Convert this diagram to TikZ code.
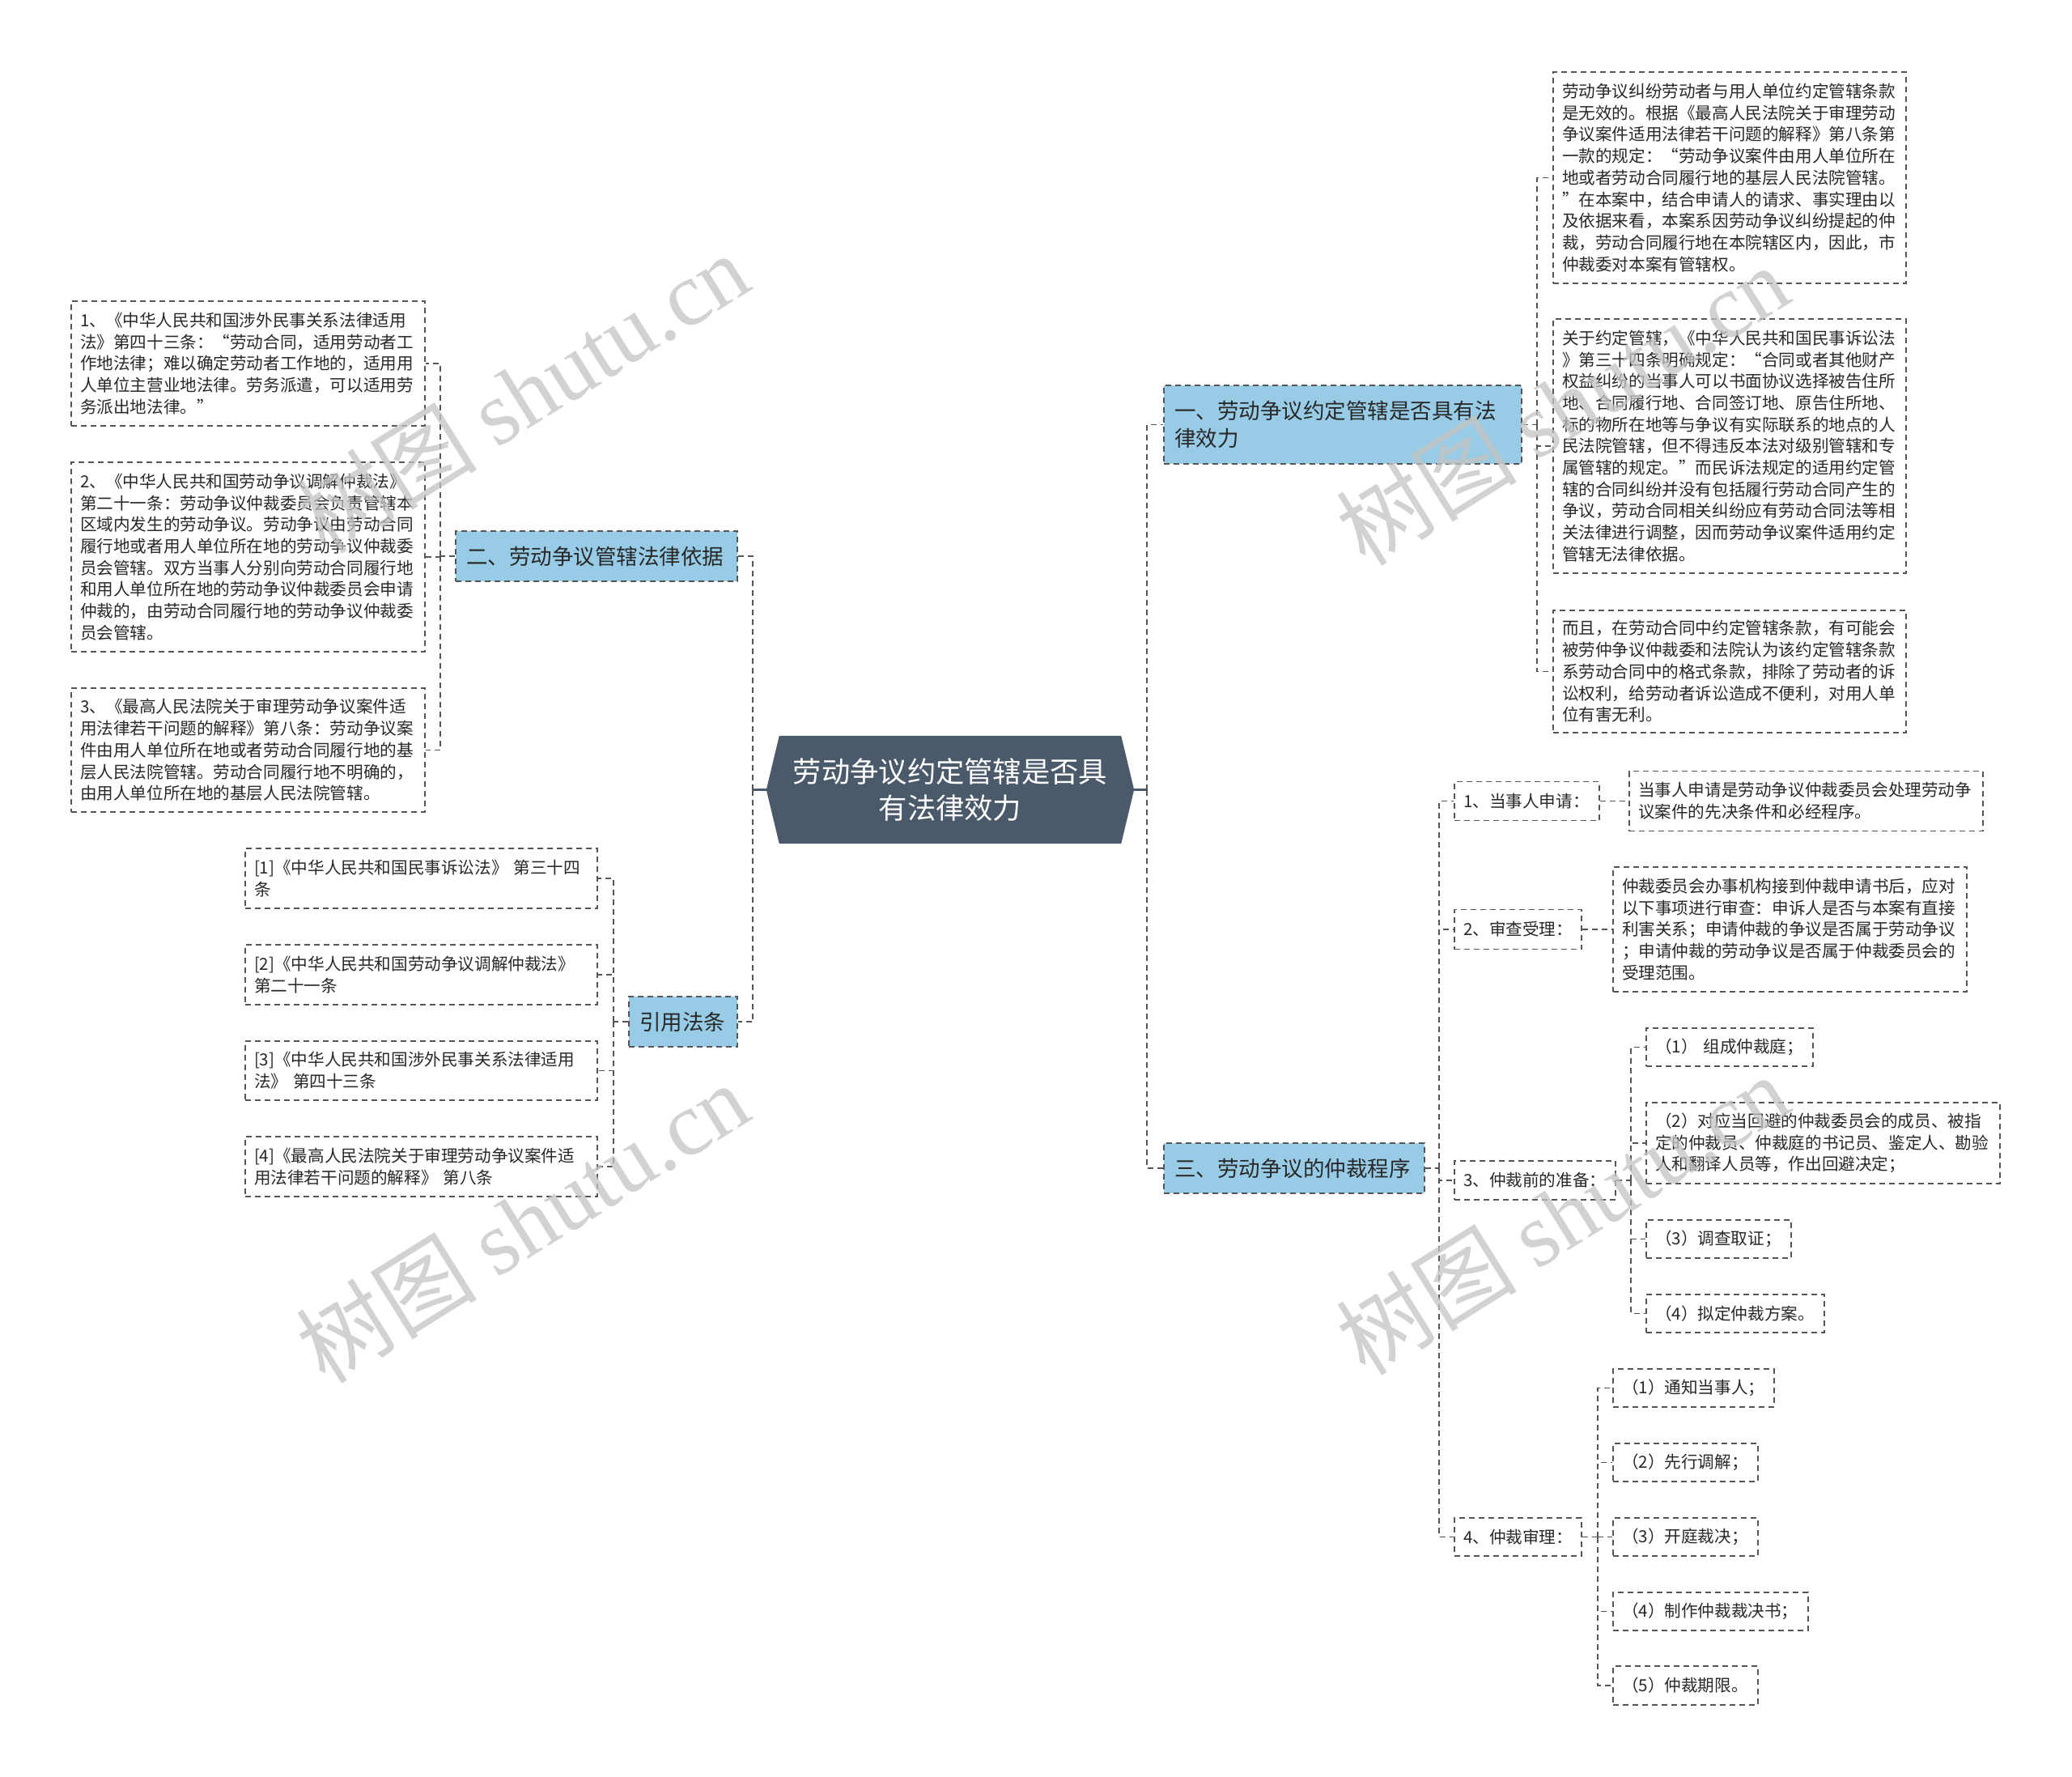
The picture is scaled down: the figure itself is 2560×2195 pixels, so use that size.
\documentclass[tikz,border=0pt]{standalone}
\usepackage{fontspec}
\newfontfamily\cjk{Noto Sans CJK SC}
\newfontfamily\wmserif{Liberation Serif}
\usetikzlibrary{backgrounds}
\definecolor{linec}{RGB}{85,85,85}
\definecolor{cenfill}{RGB}{75,90,106}
\definecolor{branchfill}{RGB}{152,204,230}
\definecolor{wmc}{RGB}{196,196,196}
\definecolor{txt}{RGB}{40,40,40}
\tikzset{
  conn/.style={draw=linec, line width=1.8pt, dash pattern=on 7pt off 5pt},
  cenconn/.style={draw=cenfill, line width=3pt},
  leafbox/.style={draw=linec, line width=1.8pt, dash pattern=on 7pt off 5pt, inner xsep=11pt, inner ysep=0pt, align=left, text=txt, font=\cjk\fontsize{20.6pt}{26.7pt}\selectfont},
  branchbox/.style={leafbox, fill=branchfill, inner xsep=13pt, font=\cjk\fontsize{26.5pt}{34pt}\selectfont},
  centre/.style={inner sep=0pt, minimum width=454pt, minimum height=133pt, align=center, text=white, font=\cjk\fontsize{35.3pt}{45.7pt}\selectfont},
  wmark/.style={rotate=32, text=wmc, opacity=0.75, inner sep=0pt, font=\fontsize{112pt}{112pt}\selectfont}
}
\begin{document}
\begin{tikzpicture}[x=1pt,y=-1pt]
\useasboundingbox (0,0) rectangle (2560,2195);

% central node
\node[centre] (cen) at (1174,975.5) {劳动争议约定管辖是否具\\有法律效力};
\begin{scope}[on background layer]
\fill[white] (0,0) rectangle (2560,2195);
\fill[cenfill] (cen.west) -- ([xshift=16pt]cen.north west) -- ([xshift=-16pt]cen.north east) -- (cen.east) -- ([xshift=-16pt]cen.south east) -- ([xshift=16pt]cen.south west) -- cycle;
\end{scope}

% branches
\node[branchbox, text width=416pt, minimum height=97pt] (b1) at (1659,524.5) {一、劳动争议约定管辖是否具有法\\律效力};
\node[branchbox, text width=296pt, minimum height=62pt] (b3) at (1599,1443) {三、劳动争议的仲裁程序};
\node[branchbox, text width=322pt, minimum height=62pt] (b2) at (737,687) {二、劳动争议管辖法律依据};
\node[branchbox, text width=108pt, minimum height=62pt] (b4) at (844,1262) {引用法条};

% left leaves
\node[leafbox, text width=415pt, minimum height=154pt] (l1) at (306.5,449) {1、《中华人民共和国涉外民事关系法律适用\\法》第四十三条：“劳动合同，适用劳动者工\\作地法律；难以确定劳动者工作地的，适用用\\人单位主营业地法律。劳务派遣，可以适用劳\\务派出地法律。”};
\node[leafbox, text width=415pt, minimum height=234pt] (l2) at (306.5,688) {2、《中华人民共和国劳动争议调解仲裁法》\\第二十一条：劳动争议仲裁委员会负责管辖本\\区域内发生的劳动争议。劳动争议由劳动合同\\履行地或者用人单位所在地的劳动争议仲裁委\\员会管辖。双方当事人分别向劳动合同履行地\\和用人单位所在地的劳动争议仲裁委员会申请\\仲裁的，由劳动合同履行地的劳动争议仲裁委\\员会管辖。};
\node[leafbox, text width=415pt, minimum height=153pt] (l3) at (306.5,926.5) {3、《最高人民法院关于审理劳动争议案件适\\用法律若干问题的解释》第八条：劳动争议案\\件由用人单位所在地或者劳动合同履行地的基\\层人民法院管辖。劳动合同履行地不明确的，\\由用人单位所在地的基层人民法院管辖。};

% citations
\node[leafbox, text width=413pt, minimum height=74pt] (c1) at (520.5,1085) {[1]《中华人民共和国民事诉讼法》 第三十四\\条};
\node[leafbox, text width=413pt, minimum height=74pt] (c2) at (520.5,1204) {[2]《中华人民共和国劳动争议调解仲裁法》\\第二十一条};
\node[leafbox, text width=413pt, minimum height=73pt] (c3) at (520.5,1322.5) {[3]《中华人民共和国涉外民事关系法律适用\\法》 第四十三条};
\node[leafbox, text width=413pt, minimum height=74pt] (c4) at (520.5,1441) {[4]《最高人民法院关于审理劳动争议案件适\\用法律若干问题的解释》 第八条};

% right upper leaves
\node[leafbox, text width=414pt, minimum height=261pt] (ra) at (2137,219.5) {劳动争议纠纷劳动者与用人单位约定管辖条款\\是无效的。根据《最高人民法院关于审理劳动\\争议案件适用法律若干问题的解释》第八条第\\一款的规定：“劳动争议案件由用人单位所在\\地或者劳动合同履行地的基层人民法院管辖。\\”在本案中，结合申请人的请求、事实理由以\\及依据来看，本案系因劳动争议纠纷提起的仲\\裁，劳动合同履行地在本院辖区内，因此，市\\仲裁委对本案有管辖权。};
\node[leafbox, text width=414pt, minimum height=314pt] (rb) at (2137,551) {关于约定管辖，《中华人民共和国民事诉讼法\\》第三十四条明确规定：“合同或者其他财产\\权益纠纷的当事人可以书面协议选择被告住所\\地、合同履行地、合同签订地、原告住所地、\\标的物所在地等与争议有实际联系的地点的人\\民法院管辖，但不得违反本法对级别管辖和专\\属管辖的规定。”而民诉法规定的适用约定管\\辖的合同纠纷并没有包括履行劳动合同产生的\\争议，劳动合同相关纠纷应有劳动合同法等相\\关法律进行调整，因而劳动争议案件适用约定\\管辖无法律依据。};
\node[leafbox, text width=414pt, minimum height=151pt] (rc) at (2137,829.5) {而且，在劳动合同中约定管辖条款，有可能会\\被劳仲争议仲裁委和法院认为该约定管辖条款\\系劳动合同中的格式条款，排除了劳动者的诉\\讼权利，给劳动者诉讼造成不便利，对用人单\\位有害无利。};

% right lower
\node[leafbox, text width=157pt, minimum height=48pt] (s1) at (1886.5,989.5) {1、当事人申请：};
\node[leafbox, text width=415pt, minimum height=74pt] (s1a) at (2231.5,989.5) {当事人申请是劳动争议仲裁委员会处理劳动争\\议案件的先决条件和必经程序。};
\node[leafbox, text width=135pt, minimum height=49pt] (s2) at (1875.5,1148) {2、审查受理：};
\node[leafbox, text width=415pt, minimum height=154pt] (s2a) at (2211.5,1148) {仲裁委员会办事机构接到仲裁申请书后，应对\\以下事项进行审查：申诉人是否与本案有直接\\利害关系；申请仲裁的争议是否属于劳动争议\\；申请仲裁的劳动争议是否属于仲裁委员会的\\受理范围。};
\node[leafbox, text width=177pt, minimum height=48pt] (s3) at (1896.5,1458) {3、仲裁前的准备：};
\node[leafbox, text width=184pt, minimum height=47pt] (p1) at (2137,1293.5) {（1） 组成仲裁庭；};
\node[leafbox, text width=415pt, minimum height=100pt] (p2) at (2252.5,1412) {（2）对应当回避的仲裁委员会的成员、被指\\定的仲裁员、仲裁庭的书记员、鉴定人、勘验\\人和翻译人员等，作出回避决定；};
\node[leafbox, text width=157pt, minimum height=47pt] (p3) at (2123.5,1530.5) {（3）调查取证；};
\node[leafbox, text width=198pt, minimum height=47pt] (p4) at (2144,1622.5) {（4）拟定仲裁方案。};
\node[leafbox, text width=135pt, minimum height=47pt] (s4) at (1875.5,1898.5) {4、仲裁审理：};
\node[leafbox, text width=177pt, minimum height=47pt] (q1) at (2092.5,1714.5) {（1）通知当事人；};
\node[leafbox, text width=157pt, minimum height=47pt] (q2) at (2082.5,1806.5) {（2）先行调解；};
\node[leafbox, text width=157pt, minimum height=47pt] (q3) at (2082.5,1898.5) {（3）开庭裁决；};
\node[leafbox, text width=219pt, minimum height=47pt] (q4) at (2113.5,1990.5) {（4）制作仲裁裁决书；};
\node[leafbox, text width=157pt, minimum height=48pt] (q5) at (2082.5,2082) {（5）仲裁期限。};

% trunk coordinates
\coordinate (tL) at (930,975.5);
\coordinate (tR) at (1417,975.5);
\coordinate (t2) at (544,687);
\coordinate (t4) at (758,1262);
\coordinate (t1) at (1899,524.5);
\coordinate (t3) at (1778,1443);
\coordinate (t33) at (2015,1458);
\coordinate (t44) at (1974,1898.5);

% connectors
\draw[cenconn] (cen.west) -- (tL);
\draw[cenconn] (cen.east) -- (tR);
\draw[conn] (tL) |- (b2.east);
\draw[conn] (tL) |- (b4.east);
\draw[conn] (tR) |- (b1.west);
\draw[conn] (tR) |- (b3.west);

\draw[conn] (b2.west) -- (t2);
\foreach \n in {l1,l2,l3} \draw[conn] (t2) |- (\n.east);
\draw[conn] (b4.west) -- (t4);
\foreach \n in {c1,c2,c3,c4} \draw[conn] (t4) |- (\n.east);
\draw[conn] (b1.east) -- (t1);
\foreach \n in {ra,rb,rc} \draw[conn] (t1) |- (\n.west);
\draw[conn] (b3.east) -- (t3);
\foreach \n in {s1,s2,s3,s4} \draw[conn] (t3) |- (\n.west);
\draw[conn] (s1.east) -- (s1a.west);
\draw[conn] (s2.east) -- (s2a.west);
\draw[conn] (s3.east) -- (t33);
\foreach \n in {p1,p2,p3,p4} \draw[conn] (t33) |- (\n.west);
\draw[conn] (s4.east) -- (t44);
\foreach \n in {q1,q2,q3,q4,q5} \draw[conn] (t44) |- (\n.west);

% watermarks
\node[wmark] (wm1) at (645,485) {\cjk 树图 \wmserif shutu.cn};
\node[wmark] (wm2) at (645,1510) {\cjk 树图 \wmserif shutu.cn};
\node[wmark] (wm3) at (1930,500) {\cjk 树图 \wmserif shutu.cn};
\node[wmark] (wm4) at (1930,1500) {\cjk 树图 \wmserif shutu.cn};
\end{tikzpicture}
\end{document}
